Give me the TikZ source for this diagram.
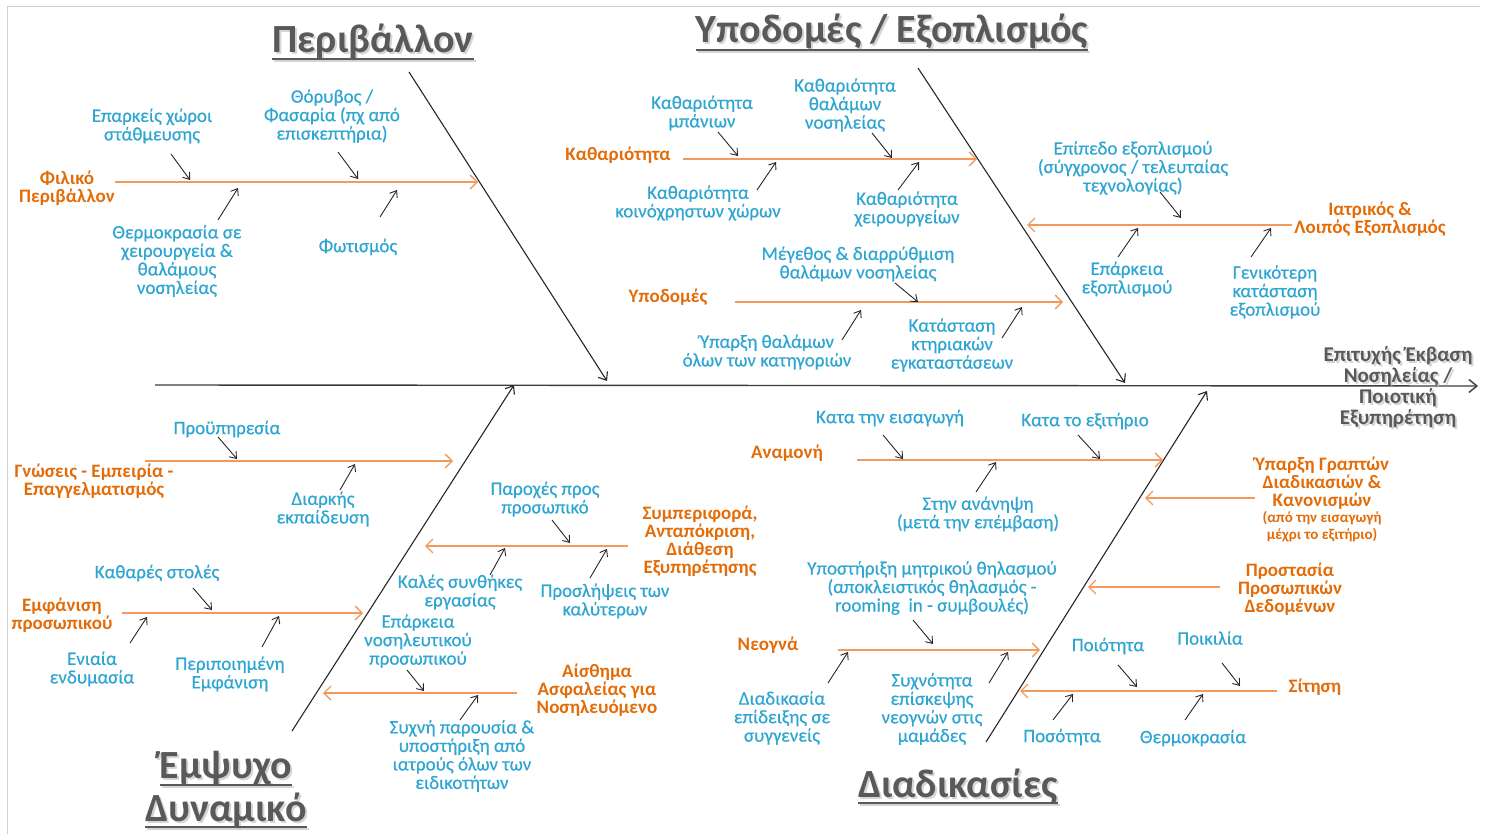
\documentclass[tikz,border=0pt]{standalone}
\usepackage{fontspec}
\setmainfont{Carlito}
\newfontfamily\causefont{Carlito}[FakeBold=0.5]
\usetikzlibrary{arrows.meta,calc}

\definecolor{causeblue}{HTML}{2FA5D2}
\definecolor{catorange}{HTML}{E36C09}
\definecolor{branchorange}{HTML}{F29A5C}
\definecolor{titlegray}{HTML}{595959}
\definecolor{bonegray}{HTML}{262626}
\definecolor{framegray}{HTML}{D0D0D0}

\tikzset{
  x=1pt, y=-1pt,
  cause/.style={text=causeblue, font=\causefont\fontsize{19}{18.5}\selectfont, align=center, inner sep=0pt},
  category/.style={text=catorange, font=\bfseries\fontsize{19}{18}\selectfont, align=center, inner sep=0pt},
  catnote/.style={text=catorange, font=\bfseries\fontsize{15}{17}\selectfont, align=center, inner sep=0pt},
  heading/.style={text=titlegray, font=\bfseries\fontsize{40}{46}\selectfont, inner sep=0pt, anchor=base},
  headshadow/.style={heading, text=black!30, opacity=0.55},
  outcome/.style={text=titlegray, font=\bfseries\fontsize{21}{21}\selectfont, align=center, inner sep=0pt},
  bone/.style={draw=bonegray, line width=1.1pt, -{Straight Barb[length=7pt,width=11pt]}},
  spine/.style={draw=bonegray!90, line width=1.4pt, -{Straight Barb[length=8pt,width=13pt]}},
  branch/.style={draw=branchorange, line width=1.3pt, -{Straight Barb[length=7pt,width=14pt]}},
  small arrow/.style={draw=bonegray, line width=0.9pt, -{Straight Barb[length=6pt,width=9pt]}},
}

% small cause arrow: name, tail, head
\newcommand\causearrow[3]{%
  \coordinate (#1-t) at (#2);
  \coordinate (#1-h) at (#3);
  \draw[small arrow] (#1-t) -- (#1-h);
}
% category branch: name, start, arrow end
\newcommand\catbranch[3]{%
  \coordinate (#1-s) at (#2);
  \coordinate (#1-e) at (#3);
  \draw[branch] (#1-s) -- (#1-e);
}
% underlined heading with soft shadow: name, base point, text, underline drop
\newcommand\heading[4]{%
  \node[headshadow] at ($(#2)+(2,2)$) {#3};
  \node[heading] (#1) at (#2) {#3};
  \draw[black!30, opacity=0.55, line width=2.6pt]
    ($(#1.base west)+(2,#4+2)$) -- ($(#1.base east)+(2,#4+2)$);
  \draw[titlegray, line width=2.6pt]
    ($(#1.base west)+(0,#4)$) -- ($(#1.base east)+(0,#4)$);
}

\begin{document}
\begin{tikzpicture}
\useasboundingbox (0,0) rectangle (1490,834);

% frame edges
\draw[framegray, line width=1pt] (7,834) -- (7,7) -- (1480,7);

% ---- spine and main bones ----
\coordinate (spineL) at (155,385);
\coordinate (spineR) at (1478,386);
\draw[spine] (spineL) -- (spineR);

\coordinate (envTop) at (409,72);   \coordinate (envEnd) at (607,381);
\coordinate (infTop) at (918,68);   \coordinate (infEnd) at (1125,383);
\coordinate (stfBot) at (292,731);  \coordinate (stfEnd) at (514,385);
\coordinate (prcBot) at (986,742);  \coordinate (prcEnd) at (1207,391);
\draw[bone] (envTop) -- (envEnd);
\draw[bone] (infTop) -- (infEnd);
\draw[bone] (stfBot) -- (stfEnd);
\draw[bone] (prcBot) -- (prcEnd);

% ---- outcome ----
\node[outcome, text=black!30, opacity=0.55] at (1400,389) {Επιτυχής Έκβαση\\Νοσηλείας /\\Ποιοτική\\Εξυπηρέτηση};
\node[outcome] (result) at (1398,387) {Επιτυχής Έκβαση\\Νοσηλείας /\\Ποιοτική\\Εξυπηρέτηση};

% ---- headings ----
\heading{hEnv}{373,53}{Περιβάλλον}{6}
\heading{hInf}{892,43}{Υποδομές / Εξοπλισμός}{7}
\heading{hStaffA}{226,778}{Έμψυχο}{7}
\heading{hStaffB}{226,821}{Δυναμικό}{6}
\heading{hProc}{958,797}{Διαδικασίες}{6}

% ===== Περιβάλλον =====
\node[category] (cFriendly) at (67,188) {Φιλικό\\Περιβάλλον};
\catbranch{bFriendly}{115,182}{478,182}
\node[cause] (parking) at (152,126) {Επαρκείς χώροι\\στάθμευσης};
\causearrow{aParking}{171,154}{190,180}
\node[cause] (noise) at (332,116) {Θόρυβος /\\Φασαρία (πχ από\\επισκεπτήρια)};
\causearrow{aNoise}{338,152}{358,179}
\node[cause] (temp) at (177,261) {Θερμοκρασία σε\\χειρουργεία \&\\θαλάμους\\νοσηλείας};
\causearrow{aTemp}{218,220}{238,188}
\node[cause] (light) at (358,247) {Φωτισμός};
\causearrow{aLight}{380,217}{397,190}

% ===== Υποδομές / Εξοπλισμός =====
\node[category] (cClean) at (618,155) {Καθαριότητα};
\catbranch{bClean}{683,159}{977,159}
\node[cause] (bath) at (702,113) {Καθαριότητα\\μπάνιων};
\causearrow{aBath}{718,132}{738,156}
\node[cause] (wards) at (845,105) {Καθαριότητα\\θαλάμων\\νοσηλείας};
\causearrow{aWards}{872,133}{892,158}
\node[cause] (common) at (698,203) {Καθαριότητα\\κοινόχρηστων χώρων};
\causearrow{aCommon}{757,190}{776,162}
\node[cause] (theatres) at (907,209) {Καθαριότητα\\χειρουργείων};
\causearrow{aTheatres}{898,190}{919,162}

\node[category] (cBuild) at (668,297) {Υποδομές};
\catbranch{bBuild}{735,302}{1063,302}
\node[cause] (size) at (858,264) {Μέγεθος \& διαρρύθμιση\\θαλάμων νοσηλείας};
\causearrow{aSize}{895,283}{918,302}
\node[cause] (types) at (767,352) {Ύπαρξη θαλάμων\\όλων των κατηγοριών};
\causearrow{aTypes}{842,340}{861,310}
\node[cause] (state) at (952,345) {Κατάσταση\\κτηριακών\\εγκαταστάσεων};
\causearrow{aState}{1002,338}{1022,307}

\node[category] (cEquip) at (1370,219) {Ιατρικός \&\\Λοιπός Εξοπλισμός};
\catbranch{bEquip}{1292,225}{1027,225}
\node[cause] (level) at (1133,168) {Επίπεδο εξοπλισμού\\(σύγχρονος / τελευταίας\\τεχνολογίας)};
\causearrow{aLevel}{1160,192}{1181,218}
\node[cause] (enough) at (1127,279) {Επάρκεια\\εξοπλισμού};
\causearrow{aEnough}{1118,257}{1138,228}
\node[cause] (general) at (1275,292) {Γενικότερη\\κατάσταση\\εξοπλισμού};
\causearrow{aGeneral}{1251,257}{1271,228}

% ===== Έμψυχο Δυναμικό =====
\node[category] (cKnow) at (94,481) {Γνώσεις - Εμπειρία -\\Επαγγελματισμός};
\catbranch{bKnow}{145,461}{453,461}
\node[cause] (prior) at (227,429) {Προϋπηρεσία};
\causearrow{aPrior}{218,437}{237,459}
\node[cause] (training) at (323,509) {Διαρκής\\εκπαίδευση};
\causearrow{aTraining}{340,490}{355,464}

\node[category] (cLook) at (62,615) {Εμφάνιση\\προσωπικού};
\catbranch{bLook}{122,613}{363,613}
\node[cause] (uniforms) at (157,573) {Καθαρές στολές};
\causearrow{aUniforms}{193,588}{212,610}
\node[cause] (dress) at (92,669) {Ενιαία\\ενδυμασία};
\causearrow{aDress}{130,643}{147,617}
\node[cause] (neat) at (230,674) {Περιποιημένη\\Εμφάνιση};
\causearrow{aNeat}{262,647}{279,616}

\node[category] (cBehav) at (700,541) {Συμπεριφορά,\\Ανταπόκριση,\\Διάθεση\\Εξυπηρέτησης};
\catbranch{bBehav}{628,546}{425,546}
\node[cause] (perks) at (545,499) {Παροχές προς\\προσωπικό};
\causearrow{aPerks}{552,520}{570,543}
\node[cause] (conditions) at (460,592) {Καλές συνθήκες\\εργασίας};
\causearrow{aConditions}{490,575}{505,548}
\node[cause] (hiring) at (605,601) {Προσλήψεις των\\καλύτερων};
\causearrow{aHiring}{590,578}{607,549}

\node[category] (cSafe) at (597,690) {Αίσθημα\\Ασφαλείας για\\Νοσηλευόμενο};
\catbranch{bSafe}{517,693}{323,693}
\node[cause] (nurses) at (418,641) {Επάρκεια\\νοσηλευτικού\\προσωπικού};
\causearrow{aNurses}{407,670}{424,691}
\node[cause] (doctors) at (462,756) {Συχνή παρουσία \&\\υποστήριξη από\\ιατρούς όλων των\\ειδικοτήτων};
\causearrow{aDoctors}{460,720}{478,695}

% ===== Διαδικασίες =====
\node[category] (cWait) at (787,453) {Αναμονή};
\catbranch{bWait}{857,460}{1163,460}
\node[cause] (admit) at (890,418) {Κατα την εισαγωγή};
\causearrow{aAdmit}{883,435}{903,459}
\node[cause] (discharge) at (1085,421) {Κατα το εξιτήριο};
\causearrow{aDischarge}{1078,435}{1100,459}
\node[cause] (recovery) at (978,514) {Στην ανάνηψη\\(μετά την επέμβαση)};
\causearrow{aRecovery}{976,492}{996,462}

\node[category] (cNewborn) at (768,645) {Νεογνά};
\catbranch{bNewborn}{838,650}{1040,650}
\node[cause] (breast) at (932,588) {Υποστήριξη μητρικού θηλασμού\\(αποκλειστικός θηλασμός -\\rooming\ \ in - συμβουλές)};
\causearrow{aBreast}{913,620}{933,644}
\node[cause] (demo) at (782,718) {Διαδικασία\\επίδειξης σε\\συγγενείς};
\causearrow{aDemo}{828,683}{848,652}
\node[cause] (visits) at (932,709) {Συχνότητα\\επίσκεψης\\νεογνών στις\\μαμάδες};
\causearrow{aVisits}{989,683}{1008,652}

\node[category] (cRules) at (1322,483) {Ύπαρξη Γραπτών\\Διαδικασιών \&\\Κανονισμών};
\node[catnote] (cRulesNote) at (1322,527) {(από την εισαγωγή\\μέχρι το εξιτήριο)};
\catbranch{bRules}{1255,498}{1145,498}

\node[category] (cData) at (1290,589) {Προστασία\\Προσωπικών\\Δεδομένων};
\catbranch{bData}{1220,587}{1088,587}

\node[category] (cFood) at (1315,687) {Σίτηση};
\catbranch{bFood}{1277,691}{1020,691}
\node[cause] (quality) at (1108,646) {Ποιότητα};
\causearrow{aQuality}{1118,665}{1137,687}
\node[cause] (variety) at (1210,638) {Ποικιλία};
\causearrow{aVariety}{1222,663}{1240,686}
\node[cause] (quantity) at (1062,737) {Ποσότητα};
\causearrow{aQuantity}{1053,720}{1073,694}
\node[cause] (foodtemp) at (1193,738) {Θερμοκρασία};
\causearrow{aFoodtemp}{1185,720}{1203,694}

\end{tikzpicture}
\end{document}
